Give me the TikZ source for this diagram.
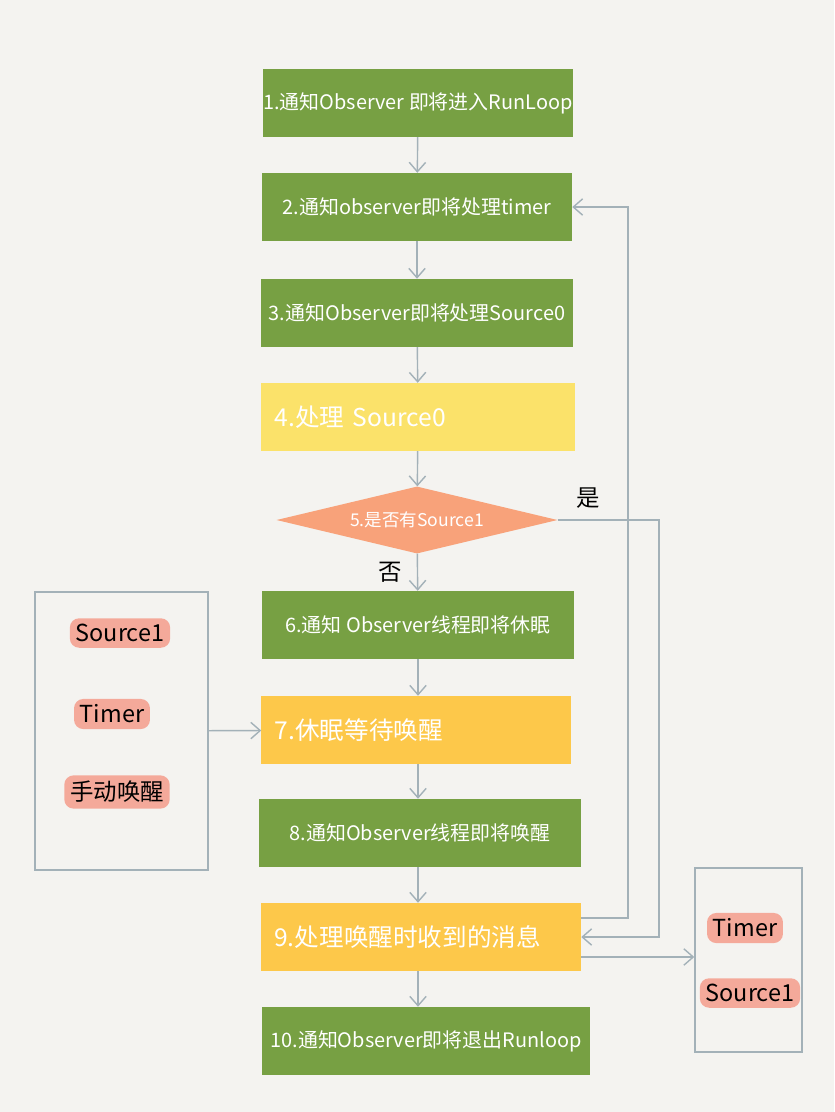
\documentclass[tikz,border=0pt]{standalone}
\usepackage{fontspec}
\setmainfont{Noto Sans CJK SC}
\usetikzlibrary{shapes.geometric,arrows.meta}
\definecolor{paper}{HTML}{F4F3F0}
\definecolor{leaf}{HTML}{77A043}
\definecolor{lemon}{HTML}{FBE26A}
\definecolor{amber}{HTML}{FDC84A}
\definecolor{peach}{HTML}{F8A27A}
\definecolor{blush}{HTML}{F5917E}
\definecolor{slate}{HTML}{A3B1B8}
\tikzset{
  greenbox/.style={draw=none, fill=leaf, text=white, minimum height=2.04cm, inner sep=0pt,
    font=\fontsize{17}{20}\selectfont},
  yellowbox/.style={greenbox, fill=lemon, align=left, inner xsep=0.4cm,
    font=\fontsize{21}{24}\selectfont},
  decision/.style={diamond, fill=peach, text=white, inner sep=0pt, aspect=4.2,
    minimum width=8.43cm, minimum height=2.01cm, font=\fontsize{15}{18}\selectfont},
  flow/.style={draw=slate, line width=1.2pt, -{Straight Barb[length=8pt,width=14pt]}},
  frame/.style={draw=slate, line width=1.2pt},
  tag/.style={fill=blush, fill opacity=0.75, text opacity=1, text=black, rounded corners=8pt,
    inner xsep=5pt, inner ysep=5pt, font=\fontsize{20}{22}\selectfont},
  answer/.style={text=black, font=\fontsize{20}{22}\selectfont}
}
\begin{document}
\begin{tikzpicture}[x=0.03cm,y=-0.03cm]
    \fill[paper] (0,0) rectangle (834,1112);
    \useasboundingbox (0,0) rectangle (834,1112);

    % main loop
    \node[greenbox, minimum width=9.3cm] (n1) at (418,103) {1.通知Observer 即将进入RunLoop};
    \node[greenbox, minimum width=9.3cm] (n2) at (417,207) {2.通知observer即将处理timer};
    \node[greenbox, minimum width=9.33cm] (n3) at (417,313) {3.通知Observer即将处理Source0};
    \node[yellowbox, text width=8.59cm] (n4) at (418,417) {4.处理 Source0};
    \node[decision] (n5) at (417,520) {5.是否有Source1};
    \node[greenbox, minimum width=9.33cm] (n6) at (418,625) {6.通知 Observer线程即将休眠};
    \node[yellowbox, fill=amber, text width=8.47cm] (n7) at (416,730) {7.休眠等待唤醒};
    \node[greenbox, minimum width=9.63cm] (n8) at (420,833) {8.通知Observer线程即将唤醒};
    \node[yellowbox, fill=amber, text width=8.8cm] (n9) at (421,937) {9.处理唤醒时收到的消息};
    \node[greenbox, minimum width=9.81cm] (n10) at (426,1041) {10.通知Observer即将退出Runloop};

    \draw[flow] (n1) -- (n2);
    \draw[flow] (n2) -- (n3);
    \draw[flow] (n3) -- (n4);
    \draw[flow] (n4) -- (n5);
    \draw[flow] (n5) -- (n6);
    \draw[flow] (n6.south -| n1) -- (n7.north -| n1);
    \draw[flow] (n7.south -| n1) -- (n8.north -| n1);
    \draw[flow] (n8.south -| n1) -- (n9.north -| n1);
    \draw[flow] (n9.south -| n1) -- (n10.north -| n1);

    \node[answer] (no) at (390,572) {否};
    \node[answer] (yes) at (588,498) {是};

    % wake-up sources
    \node[frame, minimum width=5.19cm, minimum height=8.34cm] (wake) at (121.5,731) {};
    \node[tag] (w1) at (120,633) {Source1};
    \node[tag] (w2) at (112,714) {Timer};
    \node[tag] (w3) at (117,792) {手动唤醒};
    \draw[flow] (wake) -- (n7);

    % handled messages
    \node[frame, minimum width=3.21cm, minimum height=5.52cm] (handled) at (748.5,960) {};
    \node[tag] (h1) at (745,928) {Timer};
    \node[tag] (h2) at (750,993) {Source1};

    % loops back
    \coordinate (back) at (628,918);
    \coordinate (again) at (659,937);
    \coordinate (out) at (0,957);
    \draw[flow] (n9.east |- back) -- (back) |- (n2.east);
    \draw[flow] (n5.east) -| (again) -- (n9.east);
    \draw[flow] (n9.east |- out) -- (handled.west |- out);
\end{tikzpicture}
\end{document}
